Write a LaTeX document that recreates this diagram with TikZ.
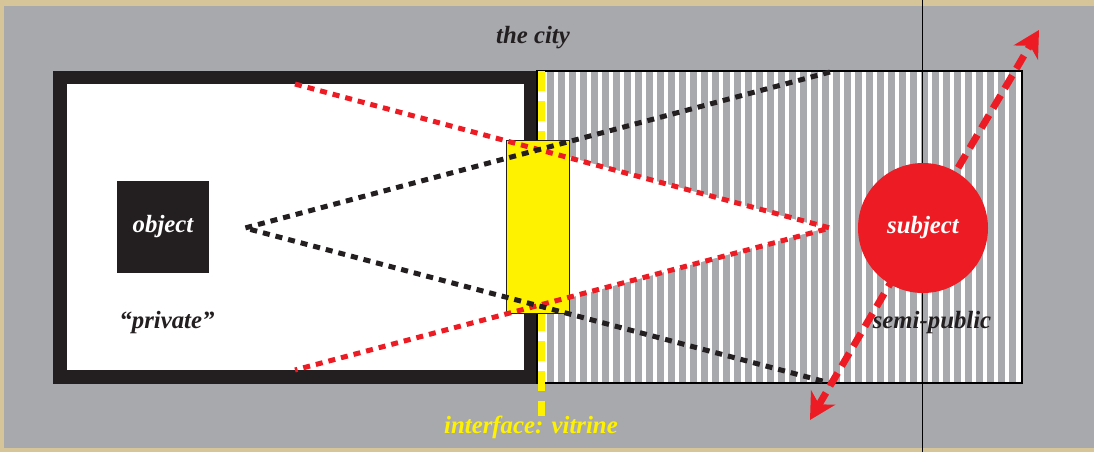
\documentclass[tikz,border=0pt]{standalone}
\usepackage{fontspec}
\setmainfont{Liberation Serif}
\usetikzlibrary{arrows.meta}
\definecolor{beige}{RGB}{214,197,152}
\definecolor{cityGray}{RGB}{168,169,173}
\definecolor{frameBlack}{RGB}{35,31,32}
\definecolor{viewRed}{RGB}{237,28,36}
\definecolor{vitYellow}{RGB}{255,242,0}
\begin{document}
\begin{tikzpicture}[x=0.5pt,y=-0.5pt,
  font=\fontsize{12.4}{14}\selectfont\bfseries\itshape,
  label/.style={inner sep=0pt,text=frameBlack},
  sight/.style={line width=2.5pt,dash pattern=on 3.5pt off 3pt},
  redsight/.style={sight,viewRed},
  blacksight/.style={sight,frameBlack},
  movetip/.tip={Stealth[length=13pt,width=14pt,inset=4pt]}]
  \useasboundingbox (0,0) rectangle (1094,452);
  \fill[beige] (0,0) rectangle (1094,452);
  \fill[cityGray] (4,6) rectangle (1094,448);

  % private room
  \fill[frameBlack] (53,71) rectangle (537,384);
  \fill[white] (67,84) rectangle (524,370);

  % semi-public stripes
  \fill[white] (537,71) rectangle (1022,383);
  \foreach \x in {547,558,...,1015}
    \fill[cityGray] (\x,71) rectangle ++(7,312);
  \fill[white] (569,157) -- (826,228) -- (569,298) -- cycle;
  \draw[line width=0.6pt] (537,71) rectangle (1022,383);
  \draw[line width=0.5pt] (922,0) -- (922,452);

  % vitrine
  \draw[vitYellow,line width=3.5pt,dash pattern=on 10pt off 5pt] (541,71) -- (541,416);
  \node[draw=frameBlack,line width=0.5pt,fill=vitYellow,minimum width=31.5pt,
    minimum height=86.5pt,inner sep=0pt] (vitrine) at (537.5,226.5) {};

  % sight lines
  \coordinate (eye) at (245,228);
  \coordinate (focus) at (830,228);
  \coordinate (topend) at (830,72);
  \coordinate (botend) at (830,383);
  \coordinate (redtop) at (295,84);
  \coordinate (redbot) at (295,370);
  \draw[redsight] (redtop) -- (focus) -- (redbot);
  \draw[blacksight] (topend) -- (eye) -- (botend);

  % subject and movement
  \coordinate (moveS) at (810,420);
  \coordinate (moveN) at (1039,30);
  \draw[viewRed,line width=3.5pt,dash pattern=on 7.5pt off 4pt,movetip-movetip]
    (moveS) -- (moveN);
  \node[circle,fill=viewRed,minimum size=65pt,inner sep=0pt,text=white] (subject)
    at (923,228) {subject};
  \node[fill=frameBlack,minimum size=46pt,inner sep=0pt,text=white] (object)
    at (163,227) {object};

  % labels
  \node[label] (city) at (533,38) {the city};
  \node[label] (private) at (167,323) {“private”};
  \node[label] (semipublic) at (932,323) {semi-public};
  \node[label,text=vitYellow] (interface) at (531,427) {interface: vitrine};
\end{tikzpicture}
\end{document}
